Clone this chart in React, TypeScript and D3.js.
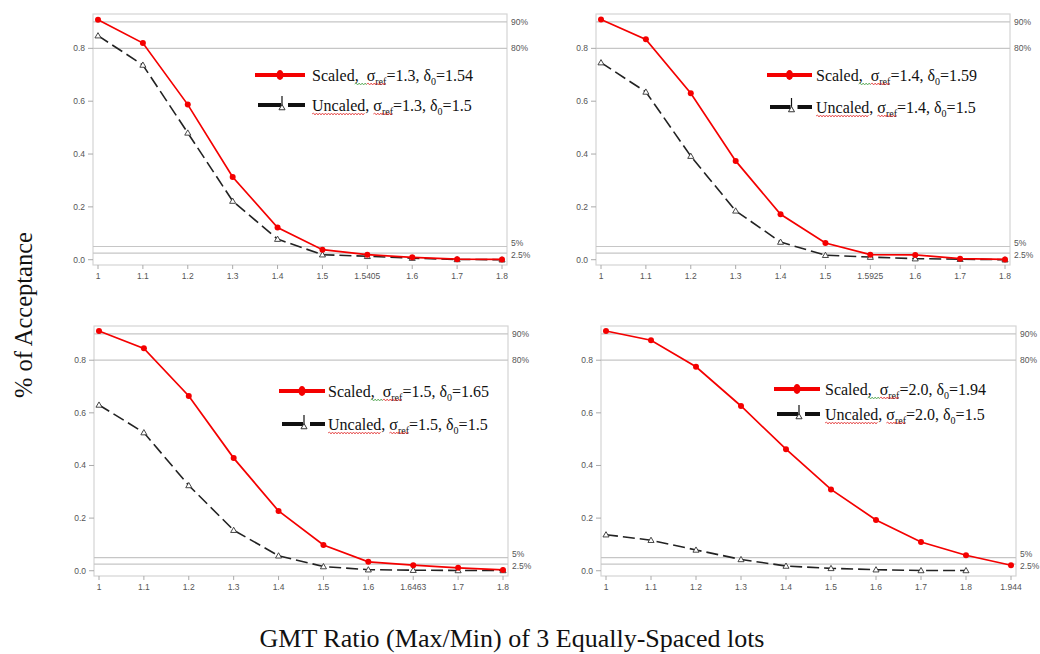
import React, { useEffect, useRef } from "react";
import * as d3 from "d3";

// ---------- DATA ----------
const catsA = ["1", "1.1", "1.2", "1.3", "1.4", "1.5", "1.5405", "1.6", "1.7", "1.8"];
const scaledA = [0.908, 0.82, 0.587, 0.313, 0.122, 0.038, 0.019, 0.009, 0.002, 0.001];
const uncaledA = [0.848, 0.737, 0.48, 0.222, 0.078, 0.019, 0.013, 0.006, 0.001, 0.0];

const catsB = ["1", "1.1", "1.2", "1.3", "1.4", "1.5", "1.5925", "1.6", "1.7", "1.8"];
const scaledB = [0.909, 0.834, 0.63, 0.374, 0.172, 0.063, 0.019, 0.018, 0.004, 0.001];
const uncaledB = [0.746, 0.635, 0.392, 0.185, 0.067, 0.017, 0.01, 0.004, 0.002, 0.0];

const catsC = ["1", "1.1", "1.2", "1.3", "1.4", "1.5", "1.6", "1.6463", "1.7", "1.8"];
const scaledC = [0.911, 0.845, 0.664, 0.428, 0.227, 0.098, 0.034, 0.021, 0.011, 0.003];
const uncaledC = [0.63, 0.525, 0.324, 0.154, 0.057, 0.016, 0.004, 0.002, 0.001, 0.001];

const catsD = ["1", "1.1", "1.2", "1.3", "1.4", "1.5", "1.6", "1.7", "1.8", "1.944"];
const scaledD = [0.911, 0.876, 0.775, 0.626, 0.462, 0.309, 0.193, 0.109, 0.059, 0.021];
const uncaledD = [0.137, 0.116, 0.079, 0.043, 0.018, 0.009, 0.004, 0.001, 0.001];

const sigmas = ["1.3", "1.4", "1.5", "2.0"];
const scaledDeltas = ["1.54", "1.59", "1.65", "1.94"];
const uncaledDelta = "1.5";

const yTicks = [0, 0.2, 0.4, 0.6, 0.8];
const refLines = [0.9, 0.8, 0.05, 0.025];
const refLabels = ["90%", "80%", "5%", "2.5%"];

const yLabel = "% of Acceptance";
const xLabel = "GMT Ratio (Max/Min) of 3 Equally-Spaced lots";

// ---------- LAYOUT ----------
const panels = [
  { cats: catsA, s: scaledA, u: uncaledA, left: 93, right: 507, top: 14, bottom: 265, lx0: 255, lx1: 305, ry: 75, by: 105, tx: 312 },
  { cats: catsB, s: scaledB, u: uncaledB, left: 596, right: 1010, top: 14, bottom: 265, lx0: 767, lx1: 812, ry: 75, by: 107, tx: 816 },
  { cats: catsC, s: scaledC, u: uncaledC, left: 94, right: 508, top: 326, bottom: 576, lx0: 279, lx1: 325, ry: 391, by: 424, tx: 328 },
  { cats: catsD, s: scaledD, u: uncaledD, left: 601, right: 1016, top: 326, bottom: 576, lx0: 774, lx1: 820, ry: 389, by: 414, tx: 825 },
];

const RED = "#f40000";
const SANS = "Arial, 'Liberation Sans', sans-serif";
const SERIF = "'Times New Roman', 'Liberation Serif', serif";

function Panel({ p, i }: { p: any; i: number }) {
  const x = d3.scalePoint<string>().domain(p.cats).range([p.left + 5, p.right - 5]);
  const y = d3.scaleLinear().domain([-0.02, 0.93]).range([p.bottom, p.top]);
  const line = d3
    .line<number>()
    .x((_, k) => x(p.cats[k]) as number)
    .y((v) => y(v));
  const tri = d3.symbol().type(d3.symbolTriangle).size(16)();
  const mid = (p.lx0 + p.lx1) / 2;
  return (
    <g>
      <rect x={p.left} y={p.top} width={p.right - p.left} height={p.bottom - p.top} fill="white" stroke="#d4d4d4" strokeWidth={1.2} />
      {refLines.map((r, k) => (
        <line key={k} x1={p.left} x2={p.right} y1={y(r)} y2={y(r)} stroke="#c6c6c6" strokeWidth={1.2} />
      ))}
      {refLabels.map((t, k) => (
        <text
          key={t}
          x={p.right + 4}
          y={y(refLines[k]) + (k === 2 ? -1 : k === 3 ? 5 : 3)}
          fontFamily={SANS}
          fontSize={8.5}
          fill="#555"
        >
          {t}
        </text>
      ))}
      {yTicks.map((t) => (
        <g key={t}>
          <line x1={p.left - 5} x2={p.left} y1={y(t)} y2={y(t)} stroke="#aaa" />
          <text x={p.left - 8} y={y(t) + 3} textAnchor="end" fontFamily={SANS} fontSize={8.5} fill="#555">
            {t.toFixed(1)}
          </text>
        </g>
      ))}
      {p.cats.map((c: string) => (
        <g key={c}>
          <line x1={x(c)} x2={x(c)} y1={p.bottom} y2={p.bottom + 4} stroke="#aaa" />
          <text x={x(c)} y={p.bottom + 14} textAnchor="middle" fontFamily={SANS} fontSize={8.5} fill="#555">
            {c}
          </text>
        </g>
      ))}
      <path d={line(p.u) || ""} fill="none" stroke="#222" strokeWidth={1.6} strokeDasharray="12,5" />
      {p.u.map((v: number, k: number) => (
        <path key={k} d={tri} transform={`translate(${x(p.cats[k])},${y(v) + 0.5})`} fill="white" stroke="#333" strokeWidth={0.9} />
      ))}
      <path d={line(p.s) || ""} fill="none" stroke={RED} strokeWidth={1.7} />
      {p.s.map((v: number, k: number) => (
        <circle key={k} cx={x(p.cats[k])} cy={y(v)} r={3} fill={RED} />
      ))}
      {/* legend */}
      <line x1={p.lx0} x2={p.lx1} y1={p.ry} y2={p.ry} stroke={RED} strokeWidth={4} />
      <ellipse cx={mid} cy={p.ry} rx={3.5} ry={5} fill={RED} />
      <line x1={p.lx0 + 3} x2={mid + 1} y1={p.by} y2={p.by} stroke="#111" strokeWidth={4} />
      <line x1={mid + 8} x2={p.lx1} y1={p.by} y2={p.by} stroke="#111" strokeWidth={4} />
      <line x1={mid + 2} x2={mid + 2} y1={p.by - 9} y2={p.by + 2} stroke="#111" strokeWidth={1.2} />
      <path d={tri} transform={`translate(${mid + 2},${p.by + 3})`} fill="white" stroke="#333" strokeWidth={1} />
      <text x={p.tx} y={p.ry + 6} fontFamily={SERIF} fontSize={16} fill="#111">
        <tspan>Scaled</tspan>
        <tspan data-wavy="green">{",\u00a0\u00a0"}</tspan>
        <tspan data-wavy="red">σ</tspan>
        <tspan data-wavy="red" fontSize={10} dy={4}>ref</tspan>
        <tspan dy={-4}>{`=${sigmas[i]}, δ`}</tspan>
        <tspan fontSize={10} dy={4}>0</tspan>
        <tspan dy={-4}>{`=${scaledDeltas[i]}`}</tspan>
      </text>
      <text x={p.tx} y={p.by + 6} fontFamily={SERIF} fontSize={16} fill="#111">
        <tspan data-wavy="red">Uncaled</tspan>
        <tspan>{", "}</tspan>
        <tspan data-wavy="red">σ</tspan>
        <tspan data-wavy="red" fontSize={10} dy={4}>ref</tspan>
        <tspan dy={-4}>{`=${sigmas[i]}, δ`}</tspan>
        <tspan fontSize={10} dy={4}>0</tspan>
        <tspan dy={-4}>{`=${uncaledDelta}`}</tspan>
      </text>
    </g>
  );
}

export default function App() {
  const svgRef = useRef<SVGSVGElement>(null);
  const wavyRef = useRef<SVGGElement>(null);

  useEffect(() => {
    if (!svgRef.current || !wavyRef.current) return;
    const g = d3.select(wavyRef.current);
    g.selectAll("*").remove();
    d3.select(svgRef.current)
      .selectAll<SVGTSpanElement, unknown>("tspan[data-wavy]")
      .each(function () {
        const bb = this.getBBox();
        const color = this.getAttribute("data-wavy") === "green" ? "#3a9a3a" : "#e02020";
        const parent = this.parentNode as SVGTextElement;
        const baseY = +(parent.getAttribute("y") || 0) + 3;
        let d = `M${bb.x},${baseY}`;
        let up = true;
        for (let xx = bb.x + 1.5; xx <= bb.x + bb.width; xx += 1.5) {
          d += `L${xx},${baseY + (up ? -1 : 1)}`;
          up = !up;
        }
        g.append("path").attr("d", d).attr("fill", "none").attr("stroke", color).attr("stroke-width", 0.7);
      });
  }, []);

  return (
    <svg
      ref={svgRef}
      width={1040}
      height={654}
      style={{ position: "absolute", left: 0, top: 0, background: "white" }}
    >
      <rect width={1040} height={654} fill="white" />
      {panels.map((p, i) => (
        <Panel key={i} p={p} i={i} />
      ))}
      <g ref={wavyRef} />
      <text
        transform="translate(32,315) rotate(-90)"
        textAnchor="middle"
        fontFamily={SERIF}
        fontSize={24.5}
        fill="#111"
      >
        {yLabel}
      </text>
      <text x={512} y={647} textAnchor="middle" fontFamily={SERIF} fontSize={26} fill="#111">
        {xLabel}
      </text>
    </svg>
  );
}
